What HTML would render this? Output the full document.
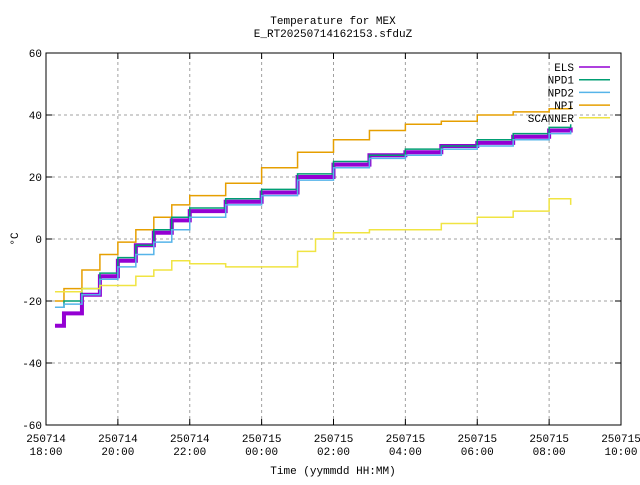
<!DOCTYPE html>
<html><head><meta charset="utf-8"><style>
body{margin:0;background:#fff}
svg text{font-family:"Liberation Mono","DejaVu Sans Mono",monospace;font-size:11px;fill:#000}
</style></head><body>
<svg id="chart" width="640" height="480" xmlns="http://www.w3.org/2000/svg">
<rect width="640" height="480" fill="#fff"/>
<text x="333" y="24" text-anchor="middle">Temperature for MEX</text>
<text x="333" y="37" text-anchor="middle">E_RT20250714162153.sfduZ</text>
<g id="grid"></g>
<g id="series"></g>
<g id="axes"></g>
<g id="legend"></g>
<text x="14" y="243" text-anchor="middle" transform="rotate(-90 14 239)">°C</text>
<text x="333" y="474" text-anchor="middle">Time (yymmdd HH:MM)</text>
</svg>
<script>
const yTicks=[-60,-40,-20,0,20,40,60];
const xTickHours=[0,2,4,6,8,10,12,14,16];
const xTickDates=["250714","250714","250714","250715","250715","250715","250715","250715","250715"];
const xTickTimes=["18:00","20:00","22:00","00:00","02:00","04:00","06:00","08:00","10:00"];
const seriesNames=["ELS","NPD1","NPD2","NPI","SCANNER"];
const seriesColors=["#9400d3","#009e73","#56b4e9","#e69f00","#f0e442"];
const seriesWidths=[4,1.5,1.5,1.5,1.5];
const hoursELS=[0.25,0.5,1,1.5,2,2.5,3,3.5,4,5,6,7,8,9,10,11,12,13,14,14.6];
const valsELS=[-28,-24,-18,-12,-7,-2,2,6,9,12,15,20,24,27,28,30,31,33,35,36];
const hoursNPD1=[0.25,0.5,1,1.5,2,2.5,3,3.5,4,5,6,7,8,9,10,11,12,13,14,14.6];
const valsNPD1=[-22,-20,-16,-11,-6,-2,3,7,10,13,16,21,25,27,29,30,32,34,36,37];
const hoursNPD2=[0.25,0.5,1,1.5,2,2.5,3,3.5,4,5,6,7,8,9,10,11,12,13,14,14.6];
const valsNPD2=[-22,-21,-18,-13,-9,-5,-1,3,7,11,14,19,23,26,27,29,30,32,34,35];
const hoursNPI=[0.25,0.5,1,1.5,2,2.5,3,3.5,4,5,6,7,8,9,10,11,12,13,14,14.6];
const valsNPI=[-20,-16,-10,-5,-1,3,7,11,14,18,23,28,32,35,37,38,40,41,42,43];
const hoursSCANNER=[0.25,0.5,1,1.5,2,2.5,3,3.5,4,5,6,7,7.5,8,9,10,11,12,13,14,14.6];
const valsSCANNER=[-17,-17,-16,-15,-15,-12,-10,-7,-8,-9,-9,-4,0,2,3,3,5,7,9,13,11];
const allHours=[hoursELS,hoursNPD1,hoursNPD2,hoursNPI,hoursSCANNER];
const allVals=[valsELS,valsNPD1,valsNPD2,valsNPI,valsSCANNER];
const X0=46,X1=621,Y0=425,Y1=53;
function xs(h){return X0+(h-0)/16*(X1-X0);}
function ys(v){return Y0-(v+60)/120*(Y0-Y1);}
const NS="http://www.w3.org/2000/svg";
function mk(tag,attrs,parent){const e=document.createElementNS(NS,tag);for(const k in attrs)e.setAttribute(k,attrs[k]);parent.appendChild(e);return e;}
const grid=document.getElementById('grid'),axes=document.getElementById('axes'),ser=document.getElementById('series'),leg=document.getElementById('legend');
yTicks.forEach(v=>{
  const y=ys(v);
  if(v>-60&&v<60){const g=mk('line',{x1:X0,x2:X1,y1:y,y2:y,stroke:'#a0a0a0','stroke-dasharray':'3,3'},grid);
  
  }
  const t=mk('line',{x1:X0,x2:X0+6,y1:y,y2:y,stroke:'#000'},axes);
  
  
  const t2=mk('line',{x1:X1-6,x2:X1,y1:y,y2:y,stroke:'#000'},axes);
  
  
  const l=mk('text',{x:X0-4,y:y+4,'text-anchor':'end'},axes);l.textContent=v;
  
  
});
xTickHours.forEach((h,i)=>{
  const x=xs(h);
  if(i>0&&i<xTickHours.length-1){const g=mk('line',{x1:x,x2:x,y1:Y0,y2:Y1,stroke:'#a0a0a0','stroke-dasharray':'3,3'},grid);
  
  }
  const t=mk('line',{x1:x,x2:x,y1:Y0,y2:Y0-6,stroke:'#000'},axes);
  
  
  const t2=mk('line',{x1:x,x2:x,y1:Y1,y2:Y1+6,stroke:'#000'},axes);
  
  
  const l=mk('text',{x:x,y:442,'text-anchor':'middle'},axes);l.textContent=xTickDates[i];
  
  
  const l2=mk('text',{x:x,y:455,'text-anchor':'middle'},axes);l2.textContent=xTickTimes[i];
  
  
});
const frame=mk('rect',{x:X0,y:Y1,width:X1-X0,height:Y0-Y1,fill:'none',stroke:'#000'},axes);


[3,0,1,2,4].forEach(s=>{
  const H=allHours[s],V=allVals[s];
  let d='M'+xs(H[0])+','+ys(V[0]);
  for(let i=1;i<H.length;i++){d+=' H'+xs(H[i])+' V'+ys(V[i]);}
  const p=mk('path',{d:d,fill:'none',stroke:seriesColors[s],'stroke-width':seriesWidths[s]},ser);
  
  
});
seriesNames.forEach((n,i)=>{
  const y=67+i*12.7;
  const t=mk('text',{x:574,y:y+4,'text-anchor':'end'},leg);t.textContent=n;
  
  
  const l=mk('line',{x1:579,x2:610,y1:y,y2:y,stroke:seriesColors[i],'stroke-width':1.5},leg);
  
  
});
</script>
</body></html>
